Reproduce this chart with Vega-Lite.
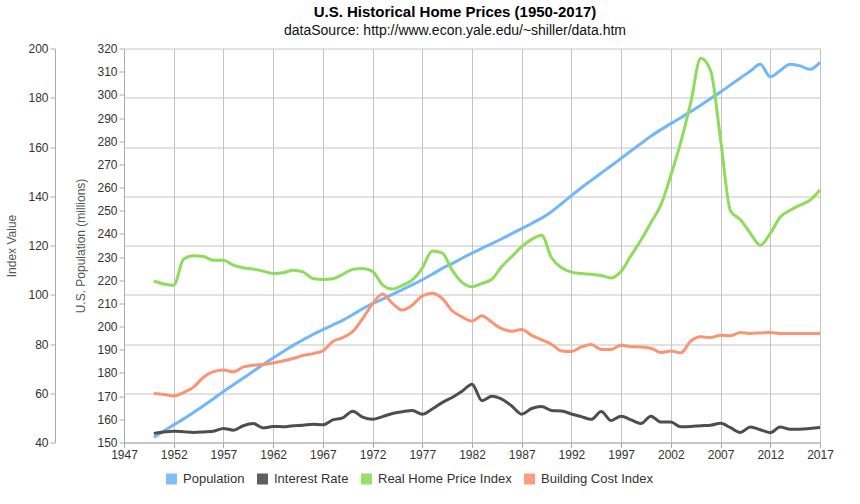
{
  "$schema": "https://vega.github.io/schema/vega-lite/v6.json",
  "width": 696,
  "height": 394,
  "autosize": {"type": "none"},
  "padding": {"left": 124, "top": 48.5, "right": 40, "bottom": 61.5},
  "background": "white",
  "title": {
    "text": "U.S. Historical Home Prices (1950-2017)",
    "subtitle": "dataSource: http://www.econ.yale.edu/~shiller/data.htm",
    "anchor": "middle",
    "dx": -17,
    "offset": 5,
    "font": "Liberation Sans",
    "fontSize": 15,
    "fontWeight": "bold",
    "color": "#000000",
    "subtitleFont": "Liberation Sans",
    "subtitleFontSize": 14,
    "subtitleColor": "#111111",
    "subtitlePadding": 4
  },
  "data": {
    "values": [
      {"year": 1950, "Population": 152.3, "Interest Rate": 43.7, "Real Home Price Index": 105.6, "Building Cost Index": 59.9},
      {"year": 1951, "Population": 154.9, "Interest Rate": 44.3, "Real Home Price Index": 104.4, "Building Cost Index": 59.5},
      {"year": 1952, "Population": 157.6, "Interest Rate": 44.6, "Real Home Price Index": 103.9, "Building Cost Index": 58.9},
      {"year": 1953, "Population": 160.2, "Interest Rate": 44.4, "Real Home Price Index": 114.5, "Building Cost Index": 60.3},
      {"year": 1954, "Population": 163.0, "Interest Rate": 44.1, "Real Home Price Index": 115.8, "Building Cost Index": 62.5},
      {"year": 1955, "Population": 165.9, "Interest Rate": 44.3, "Real Home Price Index": 115.5, "Building Cost Index": 66.5},
      {"year": 1956, "Population": 168.9, "Interest Rate": 44.6, "Real Home Price Index": 114.0, "Building Cost Index": 68.8},
      {"year": 1957, "Population": 172.0, "Interest Rate": 45.7, "Real Home Price Index": 114.0, "Building Cost Index": 69.4},
      {"year": 1958, "Population": 174.9, "Interest Rate": 45.0, "Real Home Price Index": 112.0, "Building Cost Index": 68.7},
      {"year": 1959, "Population": 177.8, "Interest Rate": 46.8, "Real Home Price Index": 111.0, "Building Cost Index": 70.7},
      {"year": 1960, "Population": 180.7, "Interest Rate": 47.7, "Real Home Price Index": 110.4, "Building Cost Index": 71.4},
      {"year": 1961, "Population": 183.7, "Interest Rate": 45.9, "Real Home Price Index": 109.6, "Building Cost Index": 71.7},
      {"year": 1962, "Population": 186.5, "Interest Rate": 46.5, "Real Home Price Index": 108.6, "Building Cost Index": 72.3},
      {"year": 1963, "Population": 189.2, "Interest Rate": 46.4, "Real Home Price Index": 108.9, "Building Cost Index": 73.1},
      {"year": 1964, "Population": 191.9, "Interest Rate": 46.8, "Real Home Price Index": 110.0, "Building Cost Index": 74.1},
      {"year": 1965, "Population": 194.3, "Interest Rate": 47.0, "Real Home Price Index": 109.3, "Building Cost Index": 75.3},
      {"year": 1966, "Population": 196.6, "Interest Rate": 47.4, "Real Home Price Index": 106.6, "Building Cost Index": 76.1},
      {"year": 1967, "Population": 198.7, "Interest Rate": 47.2, "Real Home Price Index": 106.2, "Building Cost Index": 77.2},
      {"year": 1968, "Population": 200.7, "Interest Rate": 49.2, "Real Home Price Index": 106.5, "Building Cost Index": 81.0},
      {"year": 1969, "Population": 202.7, "Interest Rate": 50.0, "Real Home Price Index": 108.3, "Building Cost Index": 82.6},
      {"year": 1970, "Population": 205.1, "Interest Rate": 52.7, "Real Home Price Index": 110.3, "Building Cost Index": 85.0},
      {"year": 1971, "Population": 207.7, "Interest Rate": 50.3, "Real Home Price Index": 110.7, "Building Cost Index": 90.3},
      {"year": 1972, "Population": 209.9, "Interest Rate": 49.4, "Real Home Price Index": 109.5, "Building Cost Index": 96.3},
      {"year": 1973, "Population": 211.9, "Interest Rate": 50.5, "Real Home Price Index": 104.0, "Building Cost Index": 100.3},
      {"year": 1974, "Population": 213.9, "Interest Rate": 51.8, "Real Home Price Index": 102.3, "Building Cost Index": 96.5},
      {"year": 1975, "Population": 216.0, "Interest Rate": 52.5, "Real Home Price Index": 103.8, "Building Cost Index": 93.8},
      {"year": 1976, "Population": 218.0, "Interest Rate": 53.0, "Real Home Price Index": 106.0, "Building Cost Index": 95.8},
      {"year": 1977, "Population": 220.2, "Interest Rate": 51.5, "Real Home Price Index": 110.8, "Building Cost Index": 99.5},
      {"year": 1978, "Population": 222.6, "Interest Rate": 53.6, "Real Home Price Index": 117.8, "Building Cost Index": 100.6},
      {"year": 1979, "Population": 225.1, "Interest Rate": 56.2, "Real Home Price Index": 117.0, "Building Cost Index": 98.5},
      {"year": 1980, "Population": 227.2, "Interest Rate": 58.3, "Real Home Price Index": 110.0, "Building Cost Index": 93.5},
      {"year": 1981, "Population": 229.5, "Interest Rate": 60.8, "Real Home Price Index": 105.0, "Building Cost Index": 91.0},
      {"year": 1982, "Population": 231.7, "Interest Rate": 63.7, "Real Home Price Index": 103.2, "Building Cost Index": 89.3},
      {"year": 1983, "Population": 233.8, "Interest Rate": 57.0, "Real Home Price Index": 104.6, "Building Cost Index": 91.5},
      {"year": 1984, "Population": 235.8, "Interest Rate": 58.8, "Real Home Price Index": 106.3, "Building Cost Index": 88.8},
      {"year": 1985, "Population": 237.9, "Interest Rate": 57.6, "Real Home Price Index": 111.5, "Building Cost Index": 86.2},
      {"year": 1986, "Population": 240.1, "Interest Rate": 54.8, "Real Home Price Index": 115.5, "Building Cost Index": 85.2},
      {"year": 1987, "Population": 242.3, "Interest Rate": 51.5, "Real Home Price Index": 119.5, "Building Cost Index": 85.9},
      {"year": 1988, "Population": 244.5, "Interest Rate": 53.8, "Real Home Price Index": 122.5, "Building Cost Index": 83.5},
      {"year": 1989, "Population": 246.8, "Interest Rate": 54.6, "Real Home Price Index": 124.2, "Building Cost Index": 81.7},
      {"year": 1990, "Population": 249.6, "Interest Rate": 53.0, "Real Home Price Index": 115.0, "Building Cost Index": 79.9},
      {"year": 1991, "Population": 253.0, "Interest Rate": 52.8, "Real Home Price Index": 111.0, "Building Cost Index": 77.2},
      {"year": 1992, "Population": 256.5, "Interest Rate": 51.6, "Real Home Price Index": 109.2, "Building Cost Index": 77.0},
      {"year": 1993, "Population": 259.9, "Interest Rate": 50.5, "Real Home Price Index": 108.6, "Building Cost Index": 78.8},
      {"year": 1994, "Population": 263.1, "Interest Rate": 49.4, "Real Home Price Index": 108.3, "Building Cost Index": 79.8},
      {"year": 1995, "Population": 266.3, "Interest Rate": 52.6, "Real Home Price Index": 107.8, "Building Cost Index": 77.8},
      {"year": 1996, "Population": 269.4, "Interest Rate": 48.9, "Real Home Price Index": 106.8, "Building Cost Index": 77.8},
      {"year": 1997, "Population": 272.6, "Interest Rate": 50.7, "Real Home Price Index": 109.5, "Building Cost Index": 79.5},
      {"year": 1998, "Population": 275.9, "Interest Rate": 49.2, "Real Home Price Index": 116.0, "Building Cost Index": 78.9},
      {"year": 1999, "Population": 279.0, "Interest Rate": 47.7, "Real Home Price Index": 122.2, "Building Cost Index": 78.8},
      {"year": 2000, "Population": 282.2, "Interest Rate": 50.7, "Real Home Price Index": 129.3, "Building Cost Index": 78.3},
      {"year": 2001, "Population": 285.0, "Interest Rate": 48.3, "Real Home Price Index": 136.5, "Building Cost Index": 76.5},
      {"year": 2002, "Population": 287.6, "Interest Rate": 48.3, "Real Home Price Index": 148.5, "Building Cost Index": 77.2},
      {"year": 2003, "Population": 290.1, "Interest Rate": 46.4, "Real Home Price Index": 162.0, "Building Cost Index": 76.4},
      {"year": 2004, "Population": 292.8, "Interest Rate": 46.5, "Real Home Price Index": 178.0, "Building Cost Index": 81.2},
      {"year": 2005, "Population": 295.5, "Interest Rate": 46.8, "Real Home Price Index": 196.0, "Building Cost Index": 82.9},
      {"year": 2006, "Population": 298.4, "Interest Rate": 47.0, "Real Home Price Index": 191.0, "Building Cost Index": 82.6},
      {"year": 2007, "Population": 301.2, "Interest Rate": 47.8, "Real Home Price Index": 163.0, "Building Cost Index": 83.6},
      {"year": 2008, "Population": 304.3, "Interest Rate": 46.0, "Real Home Price Index": 134.0, "Building Cost Index": 83.4},
      {"year": 2009, "Population": 307.3, "Interest Rate": 44.1, "Real Home Price Index": 130.5, "Building Cost Index": 84.7},
      {"year": 2010, "Population": 310.3, "Interest Rate": 46.3, "Real Home Price Index": 124.9, "Building Cost Index": 84.3},
      {"year": 2011, "Population": 313.2, "Interest Rate": 45.2, "Real Home Price Index": 120.1, "Building Cost Index": 84.5},
      {"year": 2012, "Population": 307.8, "Interest Rate": 44.0, "Real Home Price Index": 124.9, "Building Cost Index": 84.7},
      {"year": 2013, "Population": 310.5, "Interest Rate": 46.3, "Real Home Price Index": 131.6, "Building Cost Index": 84.3},
      {"year": 2014, "Population": 313.2, "Interest Rate": 45.4, "Real Home Price Index": 134.3, "Building Cost Index": 84.3},
      {"year": 2015, "Population": 312.5, "Interest Rate": 45.4, "Real Home Price Index": 136.4, "Building Cost Index": 84.3},
      {"year": 2016, "Population": 311.0, "Interest Rate": 45.7, "Real Home Price Index": 138.4, "Building Cost Index": 84.3},
      {"year": 2017, "Population": 314.0, "Interest Rate": 46.1, "Real Home Price Index": 142.5, "Building Cost Index": 84.3}
    ]
  },
  "encoding": {
    "x": {
      "field": "year",
      "type": "quantitative",
      "scale": {"domain": [1947, 2017], "nice": false, "zero": false},
      "axis": {
        "title": null,
        "values": [1947, 1952, 1957, 1962, 1967, 1972, 1977, 1982, 1987, 1992, 1997, 2002, 2007, 2012, 2017],
        "format": "d",
        "grid": true,
        "labelFlush": false,
        "labelOverlap": false
      }
    }
  },
  "layer": [
    {
      "transform": [{"fold": ["Population"], "as": ["series", "value"]}],
      "mark": {"type": "line", "interpolate": "monotone", "strokeWidth": 3},
      "encoding": {
        "y": {
          "field": "value",
          "type": "quantitative",
          "scale": {"domain": [150, 320], "nice": false, "zero": false},
          "axis": {
            "orient": "left",
            "offset": 0,
            "grid": false,
            "values": [150, 160, 170, 180, 190, 200, 210, 220, 230, 240, 250, 260, 270, 280, 290, 300, 310, 320],
            "title": "U.S. Population (millions)",
            "titlePadding": 9,
            "labelOverlap": false
          }
        },
        "color": {
          "field": "series",
          "type": "nominal",
          "scale": {
            "domain": ["Population", "Interest Rate", "Real Home Price Index", "Building Cost Index"],
            "range": ["#71b7f9", "#4e4e4e", "#8ddc5c", "#fb9472"]
          },
          "legend": {
            "orient": "none",
            "direction": "horizontal",
            "legendX": 41,
            "legendY": 424,
            "title": null,
            "symbolType": "square",
            "symbolSize": 1,
            "symbolStrokeWidth": 10,
            "symbolOpacity": 0.9,
            "labelFont": "Liberation Sans",
            "labelFontSize": 13,
            "labelColor": "#333333",
            "labelOffset": 5,
            "columnPadding": -3
          }
        }
      }
    },
    {
      "transform": [{"fold": ["Interest Rate", "Real Home Price Index", "Building Cost Index"], "as": ["series", "value"]}],
      "mark": {"type": "line", "interpolate": "monotone", "strokeWidth": 3},
      "encoding": {
        "y": {
          "field": "value",
          "type": "quantitative",
          "scale": {"domain": [40, 200], "nice": false, "zero": false},
          "axis": {
            "orient": "left",
            "offset": 69,
            "grid": true,
            "values": [40, 60, 80, 100, 120, 140, 160, 180, 200],
            "title": "Index Value",
            "titlePadding": 9
          }
        },
        "color": {"field": "series", "type": "nominal"}
      }
    }
  ],
  "resolve": {"scale": {"y": "independent"}},
  "config": {
    "view": {"stroke": null},
    "axis": {
      "labelFont": "Liberation Sans",
      "labelFontSize": 12,
      "labelColor": "#333333",
      "titleFont": "Liberation Sans",
      "titleFontSize": 12,
      "titleFontWeight": "normal",
      "titleColor": "#555555",
      "domainColor": "#aaaaaa",
      "tickColor": "#aaaaaa",
      "tickSize": 5,
      "labelPadding": 2,
      "gridColor": "#c4c4c4",
      "gridOpacity": 1
    }
  }
}
